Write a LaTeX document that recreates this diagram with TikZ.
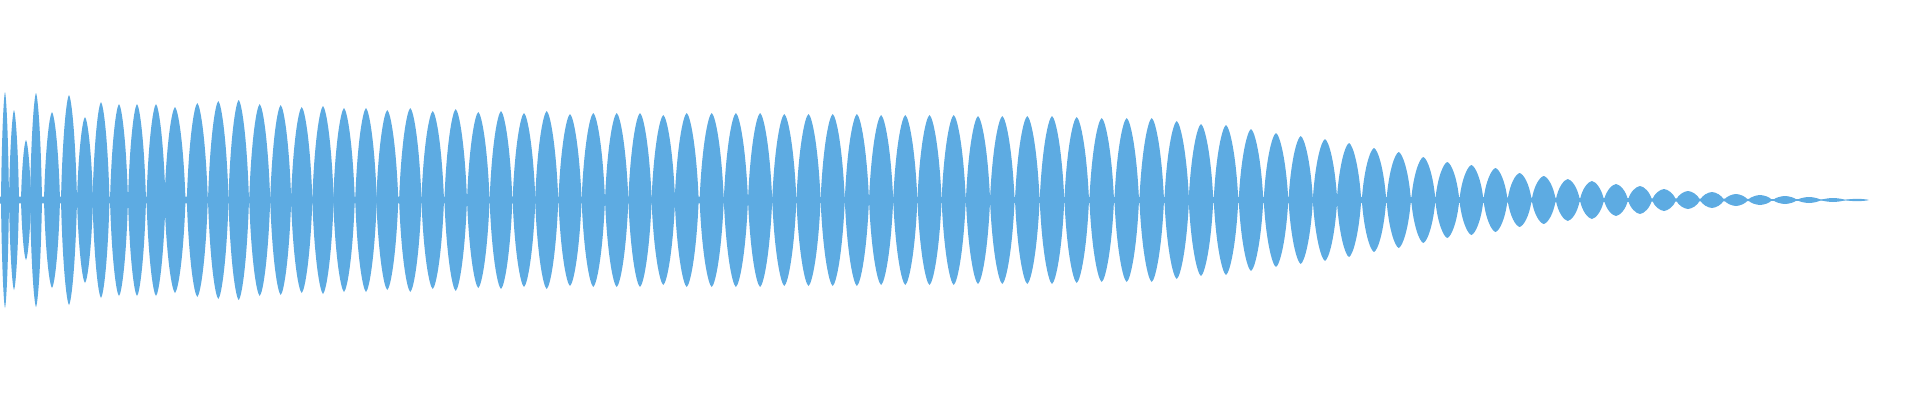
\documentclass[tikz,border=0pt]{standalone}
\begin{document}
\begin{tikzpicture}[x=1pt,y=-1pt]
\definecolor{wave}{RGB}{93,171,226}
\tikzset{lobe/.style={fill=wave,draw=none}}
\useasboundingbox (0,0) rectangle (1920,400);
\fill[wave] (0,196.5) -- (1450,197) -- (1860,199.6) -- (1860,200.4) -- (1450,203) -- (0,203.5) -- cycle;
\foreach \c/\w/\a in {5/4/108, 14/5/90, 26/5/60, 36/6/107, 52/8/88, 69/8/105, 85/8/83, 101/8.5/98, 119/9/96, 137/9/96, 156/9.5/96, 175/10.5/93,
197.3/10.5/97, 218.3/10.3/99, 238.7/10.3/100, 259.7/10.5/96, 280.7/10.5/95, 301.7/10.7/93, 323/10.7/94, 344/10.8/92, 366/10.8/92, 387.3/11/90, 410.3/11.2/92, 432.7/11.3/89, 455.7/11.3/91, 478.3/11.3/88, 501/11.4/89, 524/11.4/87, 546.7/11.6/89, 570/11.6/86, 593.3/11.7/87, 616.7/11.7/87, 640/11.7/87, 663.3/11.8/85, 686.7/12/87, 711.7/12.1/87,
735.9/12.1/87, 760.1/12.1/87, 784.3/12.1/86, 808.5/12.1/86, 832.7/12.1/86, 856.9/12.1/86, 881.1/12.1/85, 905.3/12.1/85, 929.5/12.1/85, 953.7/12.1/85, 978/12.1/84,
1002.3/12.3/84, 1027.3/12.3/84, 1052/12.3/84, 1076.7/12.3/83, 1101.7/12.3/82, 1126.7/12.3/82, 1151.7/12.3/82, 1176.7/12.3/79, 1201/12.3/76, 1226/12.3/75, 1251/12.3/71, 1276/12.3/67, 1300.7/12.2/64, 1325/12.2/61, 1349/12.2/57, 1374/12.2/52, 1398.7/12.2/48, 1423.3/12.1/43, 1447.3/12/38,
1471.4/12/35, 1495.5/12/32, 1519.6/12/27, 1543.7/12/24, 1567.8/12/21, 1591.9/12/19, 1616/12/16, 1640/12/14, 1664/12/11, 1688/12/9, 1712/12/8, 1736/12/6, 1760/12/5, 1785/12/4, 1809/12/3, 1833/12/2, 1857/12/1.2}
{
  \fill[lobe] (\c-\w,200) .. controls (\c-0.82*\w,200-0.6*\a) and (\c-0.32*\w,200-0.97*\a) .. (\c,200-\a)
    .. controls (\c+0.32*\w,200-0.97*\a) and (\c+0.82*\w,200-0.6*\a) .. (\c+\w,200)
    .. controls (\c+0.82*\w,200+0.6*\a) and (\c+0.32*\w,200+0.97*\a) .. (\c,200+\a)
    .. controls (\c-0.32*\w,200+0.97*\a) and (\c-0.82*\w,200+0.6*\a) .. (\c-\w,200) -- cycle;
}
\end{tikzpicture}
\end{document}
